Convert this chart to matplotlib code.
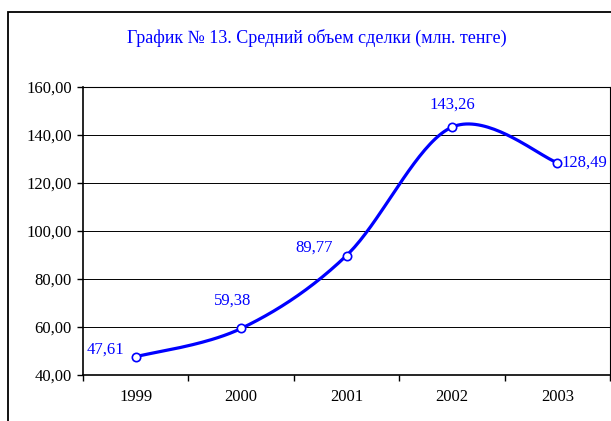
import matplotlib
matplotlib.use('Agg')
from matplotlib import pyplot as plt
from matplotlib.patches import Rectangle
import numpy as np

years = ['1999', '2000', '2001', '2002', '2003']
values = [47.61, 59.38, 89.77, 143.26, 128.49]
labels = ['47,61', '59,38', '89,77', '143,26', '128,49']
yticks = [40, 60, 80, 100, 120, 140, 160]

blue = '#0000FF'
plt.rcParams['font.family'] = ['Liberation Serif', 'DejaVu Serif']

# smoothed line like Excel (bezier, control points from neighbours)
def smooth(xs, ys, n=40):
    p = np.column_stack([xs, ys]).astype(float)
    ext = np.vstack([p[0], p, p[-1]])
    out = []
    for i in range(len(p) - 1):
        p0, p3 = p[i], p[i + 1]
        c1 = p0 + (ext[i + 2] - ext[i]) / 6
        c2 = p3 - (ext[i + 3] - ext[i + 1]) / 6
        t = np.linspace(0, 1, n)[:, None]
        seg = (1 - t)**3 * p0 + 3 * (1 - t)**2 * t * c1 + 3 * (1 - t) * t**2 * c2 + t**3 * p3
        out.append(seg)
    s = np.vstack(out)
    return s[:, 0], s[:, 1]

fig = plt.figure(figsize=(6.11, 4.21), dpi=100)
fig.patches.append(Rectangle((8/611, -0.1), 1.2, (421-12)/421 + 0.1, transform=fig.transFigure,
                             fill=False, edgecolor='black', linewidth=1.3))
ax = fig.add_axes([83/611, (421-375)/421, (610-83)/611, (375-87)/421])

x = np.arange(len(years))
sx, sy = smooth(x, values)
ax.plot(sx, sy, color=blue, linewidth=2.3, zorder=3)
ax.plot(x, values, 'o', markersize=6, markerfacecolor='white', markeredgecolor=blue,
        markeredgewidth=1.2, zorder=4)

# label offsets (points) and alignment
offsets = [(-22, 5), (-6, 20), (-23, 6), (0, 16), (3, 0)]
aligns = ['center', 'center', 'center', 'center', 'left']
for xi, v, lab, off, ha in zip(x, values, labels, offsets, aligns):
    ax.annotate(lab, (xi, v), xytext=off, textcoords='offset points', ha=ha,
                va='center', color=blue, fontsize=12)

ax.set_xlim(-0.5, 4.5)
ax.set_ylim(40, 160)
ax.set_yticks(yticks)
ax.set_yticklabels(['%d,00' % t for t in yticks], fontsize=12)
ax.set_xticks(x)
ax.set_xticklabels(years, fontsize=12)
ax.set_xticks(np.arange(-0.5, 5, 1), minor=True)
ax.tick_params(axis='x', which='major', length=0, pad=10)
ax.tick_params(axis='x', which='minor', length=4, direction='out', width=1)
ax.tick_params(axis='y', length=4, direction='out', width=1, pad=4)
ax.grid(axis='y', color='black', linewidth=0.7)
for s in ax.spines.values():
    s.set_linewidth(0.8)
ax.spines['left'].set_linewidth(1.2)
ax.spines['bottom'].set_linewidth(1.2)

fig.text(317/611, 1 - 38/421, 'График № 13. Средний объем сделки (млн. тенге)', color=blue,
         fontsize=13, ha='center', va='center')

fig.savefig('out.png', dpi=100)
